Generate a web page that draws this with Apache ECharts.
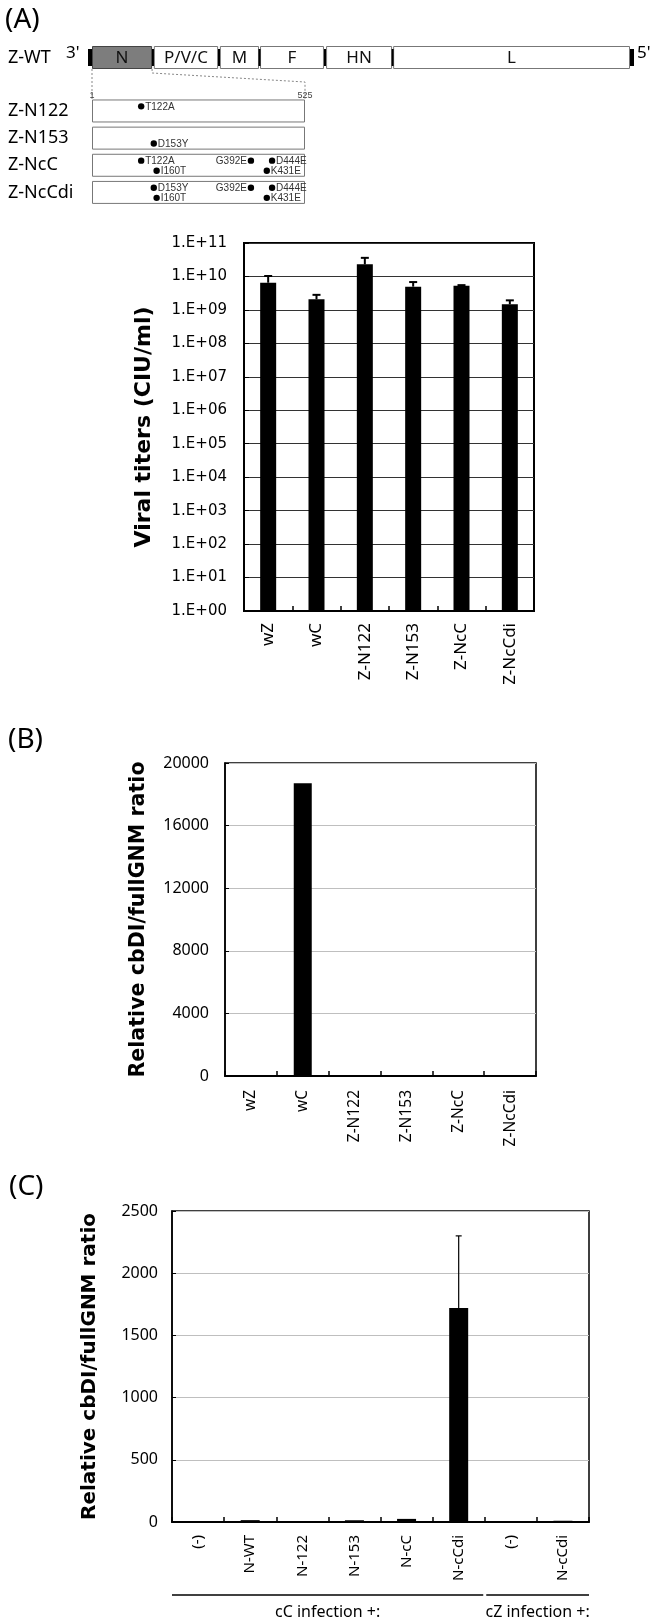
<!DOCTYPE html>
<html><head><meta charset="utf-8">
<script src="https://cdn.jsdelivr.net/npm/echarts@6/dist/echarts.min.js"></script>
<style>html,body{margin:0;padding:0;background:#fff}#c{width:650px;height:1621px}</style>
</head><body><div id="c"></div>
<script>
// ---------- DATA ----------
// genome map (units: kb along genome)
const genomeRow = ['Z-WT'];
const geneNames = ['N', 'P/V/C', 'M', 'F', 'HN', 'L'];
const geneStart = [0, 1.77, 3.66, 4.81, 6.70, 8.62];
const geneEnd   = [1.72, 3.61, 4.78, 6.64, 8.59, 15.40];
// N protein constructs (aa 1..525)
const nLen = 525;
const constructs = ['Z-N122', 'Z-N153', 'Z-NcC', 'Z-NcCdi'];
const mutRow   = [0, 1, 2, 2, 2, 2, 2, 3, 3, 3, 3, 3];
const mutPos   = [122, 153, 122, 160, 392, 431, 444, 153, 160, 392, 431, 444];
const mutLabel = ['T122A', 'D153Y', 'T122A', 'I160T', 'G392E', 'K431E', 'D444E', 'D153Y', 'I160T', 'G392E', 'K431E', 'D444E'];
const mutLine  = [0, 1, 0, 1, 0, 1, 0, 0, 1, 0, 1, 0];      // 0 = upper line, 1 = lower line
const mutSide  = ['r', 'r', 'r', 'r', 'l', 'r', 'r', 'r', 'r', 'l', 'r', 'r'];
// Panel A
const catsA = ['wZ', 'wC', 'Z-N122', 'Z-N153', 'Z-NcC', 'Z-NcCdi'];
const titerA = [6.5e9, 2.07e9, 2.3e10, 4.95e9, 5.3e9, 1.47e9];
const titerErrA = [3.8e9, 0.75e9, 1.3e10, 1.85e9, 0.2e9, 0.46e9];
const ticksA = [1, 1e1, 1e2, 1e3, 1e4, 1e5, 1e6, 1e7, 1e8, 1e9, 1e10, 1e11];
// Panel B
const catsB = ['wZ', 'wC', 'Z-N122', 'Z-N153', 'Z-NcC', 'Z-NcCdi'];
const ratioB = [1, 18700, 1, 1, 1, 1];
// Panel C
const catsC = ['(-)', 'N-WT', 'N-122', 'N-153', 'N-cC', 'N-cCdi', '(-)', 'N-cCdi'];
const ratioC = [0, 15, 3, 14, 25, 1720, 8, 10];
const errC = [0, 0, 0, 0, 0, 580, 0, 0];
const groupsC = ['cC infection +:', 'cZ infection +:'];
const groupFrom = [0, 6];
const groupTo = [5, 7];

// ---------- CHART ----------
const chart = echarts.init(document.getElementById('c'), null, {renderer: 'canvas'});
const FS = 'Noto Sans';
const VB = 'DejaVu Sans';

function catAxis(grid, data, fs, margin) {
  return {gridIndex: grid, type: 'category', data: data,
    axisLine: {lineStyle: {color: '#000', width: 2}},
    axisTick: {show: true, inside: true, length: 5, lineStyle: {color: '#000', width: 1.5}},
    axisLabel: {rotate: 90, interval: 0, fontSize: fs, fontFamily: FS, color: '#000', margin: margin},
    splitLine: {show: false}};
}
function titleStyle(fs) { return {fontFamily: VB, fontWeight: 'bold', fontSize: fs, color: '#000'}; }

const option = {
  animation: false,
  backgroundColor: '#fff',
  textStyle: {fontFamily: FS},
  grid: [
    {left: 92, top: 46, width: 538, height: 23, outerBoundsMode: 'none'},
    {left: 92, top: 97.4, width: 213, height: 108.6, outerBoundsMode: 'none'},
    {left: 244, top: 243, width: 290, height: 368, show: true, borderColor: '#000', borderWidth: 2, outerBoundsMode: 'none'},
    {left: 225, top: 763, width: 311, height: 313, show: true, borderColor: '#000', borderWidth: 1.5, outerBoundsMode: 'none'},
    {left: 172, top: 1211, width: 417, height: 311, show: true, borderColor: '#000', borderWidth: 1.5, outerBoundsMode: 'none'}
  ],
  xAxis: [
    {gridIndex: 0, type: 'value', min: 0, max: 15.4, show: false},
    {gridIndex: 1, type: 'value', min: 1, max: nLen, position: 'top',
      axisLine: {show: false}, axisTick: {show: false}, splitLine: {show: false},
      axisLabel: {customValues: [1, nLen], fontSize: 9, color: '#444', margin: -3, fontFamily: 'Liberation Sans'}},
    catAxis(2, catsA, 17, 12),
    catAxis(3, catsB, 15.5, 14),
    catAxis(4, catsC, 15, 13)
  ],
  yAxis: [
    {gridIndex: 0, type: 'category', data: genomeRow, axisLine: {show: false}, axisTick: {show: false},
      axisLabel: {align: 'left', margin: 84, fontSize: 18, fontFamily: FS, color: '#000'}},
    {gridIndex: 1, type: 'category', data: constructs, inverse: true, axisLine: {show: false}, axisTick: {show: false},
      axisLabel: {align: 'left', margin: 84, fontSize: 18, fontFamily: FS, color: '#000'}},
    {gridIndex: 2, type: 'log', logBase: 10, min: 1, max: 1e11, interval: 1,
      axisLine: {show: true, lineStyle: {color: '#000', width: 2}},
      axisTick: {show: true, inside: true, length: 5, customValues: ticksA, lineStyle: {color: '#000'}},
      axisLabel: {customValues: ticksA, formatter: v => '1.E+' + String(Math.round(Math.log10(v))).padStart(2, '0'),
        fontFamily: VB, fontSize: 15, color: '#000', margin: 17},
      splitLine: {show: true, lineStyle: {color: '#333', width: 1}},
      name: 'Viral titers (CIU/ml)', nameLocation: 'middle', nameRotate: 90, nameGap: 89, nameTextStyle: titleStyle(22)},
    {gridIndex: 3, type: 'value', min: 0, max: 20000, interval: 4000,
      axisLine: {show: true, lineStyle: {color: '#000', width: 1.5}},
      axisTick: {show: true, inside: true, length: 4, lineStyle: {color: '#000'}},
      axisLabel: {formatter: v => String(v), fontFamily: FS, fontSize: 16, color: '#000', margin: 16},
      splitLine: {show: true, lineStyle: {color: '#bfbfbf', width: 1}},
      name: 'Relative cbDI/fullGNM ratio', nameLocation: 'middle', nameRotate: 90, nameGap: 76, nameTextStyle: titleStyle(20.6)},
    {gridIndex: 4, type: 'value', min: 0, max: 2500, interval: 500,
      axisLine: {show: true, lineStyle: {color: '#000', width: 1.5}},
      axisTick: {show: true, inside: true, length: 4, lineStyle: {color: '#000'}},
      axisLabel: {formatter: v => String(v), fontFamily: FS, fontSize: 16, color: '#000', margin: 14},
      splitLine: {show: true, lineStyle: {color: '#bfbfbf', width: 1}},
      name: 'Relative cbDI/fullGNM ratio', nameLocation: 'middle', nameRotate: 90, nameGap: 72, nameTextStyle: titleStyle(20)}
  ],
  series: [
    // genome map
    {type: 'custom', xAxisIndex: 0, yAxisIndex: 0, clip: false,
      data: geneNames.map((n, i) => [geneStart[i], 0, geneEnd[i], i]),
      encode: {x: [0, 2], y: 1},
      renderItem: function (params, api) {
        const i = api.value(3);
        const p0 = api.coord([api.value(0), 0]);
        const p1 = api.coord([api.value(2), 0]);
        const h = api.size([0, 1])[1];
        const top = p0[1] - h / 2;
        const ch = [
          {type: 'rect', shape: {x: p0[0] + 0.5, y: top + 0.5, width: p1[0] - p0[0] - 1, height: h - 1},
            style: {fill: i === 0 ? '#7d7d7d' : '#fff', stroke: i === 0 ? '#444' : '#777', lineWidth: 1}},
          {type: 'text', style: {text: geneNames[i], x: (p0[0] + p1[0]) / 2, y: p0[1] + 1, align: 'center', verticalAlign: 'middle',
            fontSize: 17, fontFamily: FS, fill: '#111'}}
        ];
        const mh = h * 0.74;
        if (i > 0) {
          const pe = api.coord([geneEnd[i - 1], 0]);
          ch.push({type: 'rect', shape: {x: (pe[0] + p0[0]) / 2 - 1, y: p0[1] - mh / 2, width: 2, height: mh}, style: {fill: '#000'}});
        } else {
          ch.push({type: 'rect', shape: {x: p0[0] - 4, y: p0[1] - mh / 2, width: 4, height: mh}, style: {fill: '#000'}});
        }
        if (i === geneNames.length - 1) {
          ch.push({type: 'rect', shape: {x: p1[0], y: p0[1] - mh / 2, width: 4, height: mh}, style: {fill: '#000'}});
        }
        return {type: 'group', children: ch};
      }},
    // N protein construct boxes
    {type: 'custom', xAxisIndex: 1, yAxisIndex: 1, clip: false,
      data: constructs.map((c, i) => [1, i, nLen]),
      encode: {x: [0, 2], y: 1},
      renderItem: function (params, api) {
        const p0 = api.coord([api.value(0), api.value(1)]);
        const p1 = api.coord([api.value(2), api.value(1)]);
        const h = api.size([0, 1])[1] * 0.81;
        return {type: 'rect', shape: {x: p0[0] + 0.5, y: p0[1] - h / 2, width: p1[0] - p0[0] - 1, height: h},
          style: {fill: '#fff', stroke: '#777', lineWidth: 1}};
      }},
    // mutation dots
    {type: 'custom', xAxisIndex: 1, yAxisIndex: 1, clip: false, z: 5,
      data: mutPos.map((p, i) => [p, mutRow[i], mutLine[i], i]),
      encode: {x: 0, y: 1},
      renderItem: function (params, api) {
        const k = api.value(3);
        const c = api.coord([api.value(0), api.value(1)]);
        const band = api.size([0, 1])[1];
        const y = c[1] + (api.value(2) ? 0.2 : -0.17) * band;
        const left = mutSide[k] === 'l';
        return {type: 'group', children: [
          {type: 'circle', shape: {cx: c[0], cy: y, r: 3.2}, style: {fill: '#000'}},
          {type: 'text', style: {text: mutLabel[k], x: left ? c[0] - 4 : c[0] + 4, y: y + 0.5,
            align: left ? 'right' : 'left', verticalAlign: 'middle', fontSize: 10, fontFamily: 'Liberation Sans', fill: '#333'}}
        ]};
      }},
    // Panel A bars
    {type: 'bar', xAxisIndex: 2, yAxisIndex: 2, data: titerA, barWidth: 16, itemStyle: {color: '#000'}},
    {type: 'custom', xAxisIndex: 2, yAxisIndex: 2, z: 5,
      data: catsA.map((c, i) => [i, titerA[i], titerA[i] + titerErrA[i]]),
      encode: {x: 0, y: [1, 2]},
      renderItem: function (params, api) {
        const p0 = api.coord([api.value(0), api.value(1)]);
        const p1 = api.coord([api.value(0), api.value(2)]);
        return {type: 'group', children: [
          {type: 'line', shape: {x1: p0[0], y1: p0[1], x2: p1[0], y2: p1[1]}, style: {stroke: '#000', lineWidth: 2}},
          {type: 'line', shape: {x1: p1[0] - 4, y1: p1[1], x2: p1[0] + 4, y2: p1[1]}, style: {stroke: '#000', lineWidth: 2}}
        ]};
      }},
    // Panel B bars
    {type: 'bar', xAxisIndex: 3, yAxisIndex: 3, data: ratioB, barWidth: 18, itemStyle: {color: '#000'}},
    // Panel C bars
    {type: 'bar', xAxisIndex: 4, yAxisIndex: 4, data: ratioC, barWidth: 19, itemStyle: {color: '#000'}},
    {type: 'custom', xAxisIndex: 4, yAxisIndex: 4, z: 5,
      data: catsC.map((c, i) => [i, ratioC[i], ratioC[i] + errC[i]]),
      encode: {x: 0, y: [1, 2]},
      renderItem: function (params, api) {
        if (!(api.value(2) > api.value(1))) return null;
        const p0 = api.coord([api.value(0), api.value(1)]);
        const p1 = api.coord([api.value(0), api.value(2)]);
        return {type: 'group', children: [
          {type: 'line', shape: {x1: p0[0], y1: p0[1], x2: p1[0], y2: p1[1]}, style: {stroke: '#000', lineWidth: 1.2}},
          {type: 'line', shape: {x1: p1[0] - 3, y1: p1[1], x2: p1[0] + 3, y2: p1[1]}, style: {stroke: '#000', lineWidth: 1.2}}
        ]};
      }},
    // Panel C group brackets
    {type: 'custom', xAxisIndex: 4, yAxisIndex: 4, clip: false,
      data: groupsC.map((g, i) => [groupFrom[i], 0, groupTo[i], i]),
      encode: {x: [0, 2], y: 1},
      renderItem: function (params, api) {
        const k = api.value(3);
        const a = api.coord([api.value(0), 0]);
        const b = api.coord([api.value(2), 0]);
        const bw = api.size([1, 0])[0];
        const x1 = a[0] - bw / 2 + (k === 0 ? 0 : 1.5);
        const x2 = b[0] + bw / 2 - (k === groupsC.length - 1 ? 0 : 1.5);
        const y = a[1] + 73;
        return {type: 'group', children: [
          {type: 'line', shape: {x1: x1, y1: y, x2: x2, y2: y}, style: {stroke: '#000', lineWidth: 1.5}},
          {type: 'text', style: {text: groupsC[k], x: (x1 + x2) / 2, y: y + 17, align: 'center', verticalAlign: 'middle',
            fontSize: 16, fontFamily: FS, fill: '#000'}}
        ]};
      }}
  ]
};
chart.setOption(option);

// connector lines from N gene to N-protein construct boxes (positions from the axes)
const xN0 = chart.convertToPixel({xAxisIndex: 0}, geneStart[0]);
const xN1 = chart.convertToPixel({xAxisIndex: 0}, geneEnd[0]);
const xA0 = chart.convertToPixel({xAxisIndex: 1}, 1);
const xA1 = chart.convertToPixel({xAxisIndex: 1}, nLen);
const yGenomeBottom = chart.convertToPixel({yAxisIndex: 0}, genomeRow[0]) + 11.5;
const yBoxTop = chart.convertToPixel({yAxisIndex: 1}, constructs[0]) - 11;
const dash = {stroke: '#888', lineWidth: 1, lineDash: [2, 2], fill: null};
chart.setOption({graphic: [
  {type: 'text', left: 5, top: 6, style: {text: '(A)', fontSize: 28, fontFamily: FS, fill: '#000'}},
  {type: 'text', left: 8, top: 726, style: {text: '(B)', fontSize: 28, fontFamily: FS, fill: '#000'}},
  {type: 'text', left: 9, top: 1173, style: {text: '(C)', fontSize: 28, fontFamily: FS, fill: '#000'}},
  {type: 'text', left: 66, top: 45, style: {text: "3'", fontSize: 17, fontFamily: FS, fill: '#000'}},
  {type: 'text', left: 637, top: 45, style: {text: "5'", fontSize: 17, fontFamily: FS, fill: '#000'}},
  {type: 'polyline', shape: {points: [[xN0, yGenomeBottom], [xA0, yBoxTop]]}, style: dash, silent: true},
  {type: 'polyline', shape: {points: [[xN1, yGenomeBottom], [xN1, yGenomeBottom + 4], [xA1, yGenomeBottom + 13], [xA1, yBoxTop]]}, style: dash, silent: true}
]});
</script>
</body></html>
